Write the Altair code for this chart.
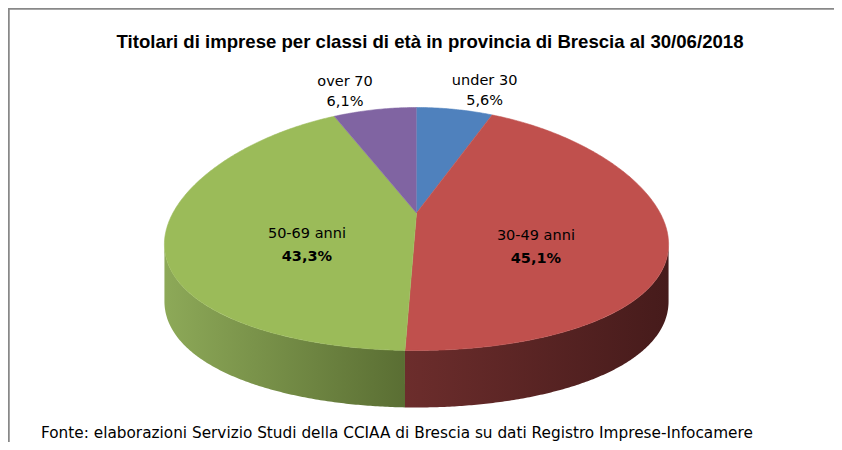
import altair as alt
import numpy as np
import pandas as pd

# ---------------- data ----------------
categories = ["under 30", "30-49 anni", "50-69 anni", "over 70"]
values = [5.6, 45.1, 43.3, 6.1]
top_colors = ["#4f81bd", "#c0504d", "#9bbb59", "#8064a2"]
side_colors = [["#3d6591", "#2b4767"], ["#6c2d2c", "#461b1b"],
               ["#8da958", "#5a6e33"], ["#634d7d", "#45355a"]]
title_text = "Titolari di imprese per classi di età in provincia di Brescia al 30/06/2018"
source_text = "Fonte: elaborazioni Servizio Studi della CCIAA di Brescia su dati Registro Imprese-Infocamere"

# ---------------- geometry of the tilted pie (pixel space) ----------------
CX, CY, A, B = 416.5, 229.0, 250.0, 121.5
K = 0.13          # perspective narrowing of the far side
APEX_Y = 213.0    # projected centre of the pie
DEPTH = 57.0      # thickness of the pie
W, H = 826, 434   # plot area == page area inside the 8px margin


def rim(theta_deg):
    t = np.radians(theta_deg)
    return CX + A * np.sin(t) * (1 - K * np.cos(t)), CY - B * np.cos(t)


grid = np.linspace(0, 180, 3601)
gx, _ = rim(grid)
right_lim = float(grid[np.argmax(gx)])
left_lim = 360.0 - right_lim

total = sum(values)
ends = np.cumsum(values) / total * 360.0
starts = ends - np.array(values) / total * 360.0

top_rows, side_rows, lab_rows = [], [], []
for cat, v, s, e in zip(categories, values, starts, ends):
    th = np.linspace(s, e, max(int((e - s) * 2), 6))
    x, y = rim(th)
    pts = [(CX, APEX_Y)] + list(zip(x, y))
    for j, (px, py) in enumerate(pts):
        top_rows.append(dict(slice=cat, order=j, x=px, y=py))
    lo, hi = max(s, right_lim), min(e, left_lim)
    if lo < hi:
        th = np.linspace(lo, hi, max(int((hi - lo) * 2), 6))
        x, y = rim(th)
        pts = list(zip(x, y)) + list(zip(x[::-1], (y + DEPTH)[::-1]))
        for j, (px, py) in enumerate(pts):
            side_rows.append(dict(slice=cat, order=j, x=px, y=py))
    mid = (s + e) / 2
    pct = f"{v:.1f}".replace(".", ",") + "%"
    if v >= 10:
        r = 0.455
        t = np.radians(mid)
        lx = CX + r * A * np.sin(t) * (1 - K * np.cos(t)) + 5
        ly = CY - r * B * np.cos(t) + 7
        lab_rows.append(dict(slice=cat, name=cat, pct=pct, x=lx,
                             yn=ly - 11, yp=ly + 12, inside=True))
    else:
        rx, ry = rim(mid)
        lx = rx + np.sign(np.sin(np.radians(mid))) * 30
        lab_rows.append(dict(slice=cat, name=cat, pct=pct, x=float(lx),
                             yn=float(ry) - 28, yp=float(ry) - 8, inside=False))

top_df = pd.DataFrame(top_rows)
side_df = pd.DataFrame(side_rows)
lab_df = pd.DataFrame(lab_rows)

xs = alt.Scale(domain=[8, 8 + W], nice=False, zero=False)
ys = alt.Scale(domain=[8 + H, 8], nice=False, zero=False)
X = alt.X("x:Q", scale=xs, axis=None)
Y = alt.Y("y:Q", scale=ys, axis=None)
color_scale = alt.Scale(domain=categories, range=top_colors)

layers = []
for cat, sc in zip(categories, side_colors):
    if cat not in set(side_df["slice"]):
        continue
    grad = alt.Gradient(gradient="linear",
                        stops=[alt.GradientStop(color=sc[0], offset=0),
                               alt.GradientStop(color=sc[1], offset=1)],
                        x1=0, x2=1, y1=0, y2=0)
    layers.append(
        alt.Chart(side_df).transform_filter(alt.datum.slice == cat)
        .mark_line(filled=True, fill=grad, strokeWidth=0)
        .encode(x=X, y=Y, order=alt.Order("order:Q"))
    )

layers.append(
    alt.Chart(top_df).mark_line(filled=True, strokeWidth=0.6)
    .encode(x=X, y=Y, order=alt.Order("order:Q"),
            color=alt.Color("slice:N", scale=color_scale, legend=None),
            stroke=alt.Stroke("slice:N", scale=color_scale, legend=None))
)

LABEL_FONT = "DejaVu Sans"
layers.append(
    alt.Chart(lab_df).mark_text(font=LABEL_FONT, fontSize=14.5, color="#000000")
    .encode(x=X, y=alt.Y("yn:Q", scale=ys, axis=None), text="name:N")
)
layers.append(
    alt.Chart(lab_df).transform_filter("datum.inside").mark_text(
        font=LABEL_FONT, fontSize=14.5, fontWeight="bold", color="#000000")
    .encode(x=X, y=alt.Y("yp:Q", scale=ys, axis=None), text="pct:N")
)
layers.append(
    alt.Chart(lab_df).transform_filter("!datum.inside").mark_text(
        font=LABEL_FONT, fontSize=14.5, color="#000000")
    .encode(x=X, y=alt.Y("yp:Q", scale=ys, axis=None), text="pct:N")
)

txt_df = pd.DataFrame({"t": [title_text]})
layers.append(
    alt.Chart(txt_df).mark_text(font="Liberation Sans", fontSize=18.6,
                                fontWeight="bold", color="#000000",
                                align="center", baseline="alphabetic")
    .encode(x=alt.value(430 - 8), y=alt.value(48 - 8), text="t:N")
)
src_df = pd.DataFrame({"t": [source_text]})
layers.append(
    alt.Chart(src_df).mark_text(font="DejaVu Sans", fontSize=15.3,
                                color="#000000", align="left",
                                baseline="alphabetic")
    .encode(x=alt.value(41 - 8), y=alt.value(438 - 8), text="t:N")
)
# frame (top and left borders)
frame_df = pd.DataFrame({"k": [0]})
layers.append(
    alt.Chart(frame_df).mark_rule(color="#888888", strokeWidth=2.5)
    .encode(x=alt.value(0), x2=alt.value(W), y=alt.value(0.5))
)
layers.append(
    alt.Chart(frame_df).mark_rule(color="#888888", strokeWidth=2.5)
    .encode(x=alt.value(0.5), y=alt.value(0), y2=alt.value(H))
)

chart = alt.layer(*layers).properties(
    width=W, height=H, padding=0, autosize=alt.AutoSizeParams(type="none"),
    background="#ffffff"
).configure_view(stroke=None)

chart.save("out.html", embed_options={"renderer": "svg", "actions": False})
